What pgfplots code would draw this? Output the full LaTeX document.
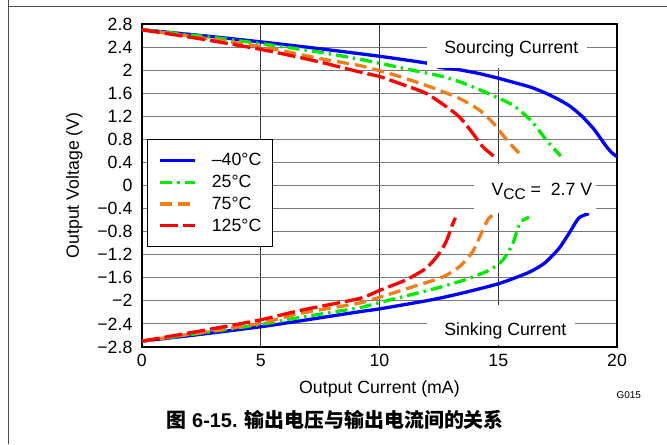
\documentclass[border=0pt]{standalone}
\usepackage{fontspec}
\setmainfont{Liberation Sans}
\newfontfamily\cjk{Noto Sans CJK SC}
\usepackage{pgfplots}
\pgfplotsset{compat=1.18}
\definecolor{cblue}{RGB}{0,0,255}
\definecolor{cgreen}{RGB}{0,235,0}
\definecolor{corange}{RGB}{240,125,25}
\definecolor{cred}{RGB}{255,0,0}
\definecolor{gridgray}{RGB}{120,120,120}
\newcommand{\fs}{\fontsize{17.8}{20}\selectfont}
\begin{document}
\begin{tikzpicture}
\path (0,0) rectangle (667bp,444bp);
\draw[line width=1bp, black!70] (8.3bp,0) -- (8.3bp,444bp);
\draw[line width=1bp, black!70] (8.3bp,437.8bp) -- (667bp,437.8bp);
\begin{axis}[
 at={(142bp,97.3bp)}, anchor=south west,
 scale only axis, width=475.5bp, height=323.2bp,
 xmin=0, xmax=20, ymin=-2.8, ymax=2.8,
 xtick={0,5,10,15,20},
 xticklabels={0,5,10,15,20},
 ytick={-2.8,-2.4,-2,-1.6,-1.2,-0.8,-0.4,0,0.4,0.8,1.2,1.6,2,2.4,2.8},
 yticklabels={−2.8,−2.4,−2,−1.6,−1.2,−0.8,−0.4,0,0.4,0.8,1.2,1.6,2,2.4,2.8},
 major tick length=0pt,
 tick label style={font=\fs},
 xticklabel style={yshift=-4bp},
 yticklabel style={xshift=-6bp},
 ymajorgrids, xmajorgrids,
 y grid style={gridgray, line width=1.1bp},
 x grid style={black!80, line width=0.7bp},
 axis line style={line width=2.5bp},
 xlabel={Output Current (mA)},
 ylabel={Output Voltage (V)},
 label style={font=\fs},
 xlabel style={at={(axis description cs:0.5,-0.1444)}, anchor=base},
 ylabel style={at={(axis description cs:-0.1425,0.5)}, anchor=center},
 legend style={at={(axis description cs:0.0105,0.308)}, anchor=south west,
   draw=black, line width=1.5bp, fill=white, inner xsep=11bp, inner ysep=10.3bp,
   column sep=15bp, row sep=0pt, font=\fs,
   nodes={inner sep=0pt, minimum height=21.7bp}},
 legend cell align=left,
 legend image code/.code={\draw[#1] (0bp,0bp) -- (35bp,0bp);},
]
% Sourcing
\addplot[cblue, line width=3.3bp, smooth, tension=0.4] coordinates {
(0,2.70) (2.5,2.60) (5,2.49) (7.5,2.37) (10,2.24) (12,2.12) (12.5,2.05) (13.3,2.01)
(14.2,1.94) (15,1.86) (15.8,1.77) (16.4,1.70) (17.0,1.60) (17.5,1.50) (18.0,1.38)
(18.5,1.21) (19.0,0.99) (19.3,0.82) (19.6,0.65) (19.8,0.56) (20,0.50)};
\addlegendentry{–40°C}
\addplot[cgreen, line width=3.3bp, dash pattern=on 12bp off 5bp on 2.5bp off 5bp, smooth, tension=0.4] coordinates {
(0,2.70) (2.5,2.59) (5,2.46) (7.5,2.31) (9.15,2.19) (10,2.12) (11.25,2.01) (12.65,1.89)
(13.5,1.78) (14.33,1.64) (15.04,1.51) (15.5,1.42) (15.88,1.31) (16.44,1.10) (17.0,0.80)
(17.3,0.66) (17.63,0.51)};
\addlegendentry{25°C}
\addplot[corange, line width=3.3bp, dash pattern=on 12bp off 6bp, smooth, tension=0.4] coordinates {
(0,2.70) (2.5,2.56) (5,2.41) (7.5,2.20) (9.15,2.08) (10,1.99) (10.84,1.89) (12.2,1.70)
(13.36,1.51) (14.2,1.31) (14.75,1.10) (15.3,0.82) (15.6,0.68) (15.95,0.53)};
\addlegendentry{75°C}
\addplot[cred, line width=3.3bp, dash pattern=on 18bp off 5bp, smooth, tension=0.4] coordinates {
(0,2.70) (2.5,2.54) (5,2.36) (6.63,2.22) (7.5,2.14) (9.15,1.97) (10,1.89) (10.84,1.77)
(11.95,1.60) (12.8,1.37) (13.36,1.19) (13.9,0.92) (14.33,0.68) (14.8,0.51)};
\addlegendentry{125°C}
% Sinking
\addplot[cblue, line width=3.3bp, smooth, tension=0.4, forget plot] coordinates {
(0,-2.70) (2.5,-2.58) (5,-2.45) (6.63,-2.35) (9.15,-2.19) (10,-2.14) (12.23,-1.98)
(13.64,-1.85) (15.04,-1.70) (16.16,-1.53) (16.6,-1.44) (17.0,-1.33) (17.56,-1.09)
(17.98,-0.83) (18.4,-0.56) (18.82,-0.49)};
\addplot[cgreen, line width=3.3bp, dash pattern=on 12bp off 5bp on 2.5bp off 5bp, smooth, tension=0.4, forget plot] coordinates {
(0,-2.70) (2.5,-2.56) (5,-2.41) (6.63,-2.29) (9.15,-2.12) (10,-2.03) (12.23,-1.80)
(13.64,-1.63) (14.62,-1.47) (15.18,-1.30) (15.6,-1.02) (15.88,-0.68) (16.05,-0.60) (16.3,-0.55)};
\addplot[corange, line width=3.3bp, dash pattern=on 12bp off 6bp, smooth, tension=0.4, forget plot] coordinates {
(0,-2.70) (2.5,-2.55) (5,-2.39) (6.63,-2.22) (9.15,-2.04) (10,-1.94) (11.53,-1.74)
(12.65,-1.59) (13.36,-1.41) (13.92,-1.15) (14.33,-0.79) (14.6,-0.57) (14.9,-0.49)};
\addplot[cred, line width=3.3bp, dash pattern=on 18bp off 5bp, smooth, tension=0.4, forget plot] coordinates {
(0,-2.70) (2.5,-2.52) (5,-2.33) (6.63,-2.17) (9.15,-1.96) (10,-1.82) (11.1,-1.64)
(11.95,-1.44) (12.44,-1.22) (12.8,-0.98) (13.08,-0.67) (13.2,-0.56)};
% label boxes
\fill[white] (axis cs:12,2.045) rectangle (axis cs:18.75,2.775);
\fill[white] (axis cs:12,-2.08) rectangle (axis cs:18.25,-2.775);
\fill[white] (axis cs:13.98,0.37) rectangle (axis cs:19.1,-0.47);
\node[anchor=base, inner sep=0pt, font=\fs] at (axis cs:15.55,2.28) {Sourcing Current};
\node[anchor=base, inner sep=0pt, font=\fs] at (axis cs:15.3,-2.60) {Sinking Current};
\node[anchor=base west, inner sep=0pt, font=\fs] at (axis cs:14.71,-0.17)
  {V\raisebox{-4bp}{\fontsize{15.5}{16}\selectfont CC} = \ 2.7 V};
\end{axis}
\node[anchor=base west, inner sep=0pt, font=\fontsize{20}{22}\selectfont\bfseries]
  at (166.7bp,17bp) {{\cjk\bfseries 图} 6-15. {\cjk\bfseries 输出电压与输出电流间的关系}};
\node[anchor=base west, inner sep=0pt, font=\fontsize{10}{12}\selectfont]
  at (616.8bp,45.7bp) {G015};
\end{tikzpicture}
\end{document}
